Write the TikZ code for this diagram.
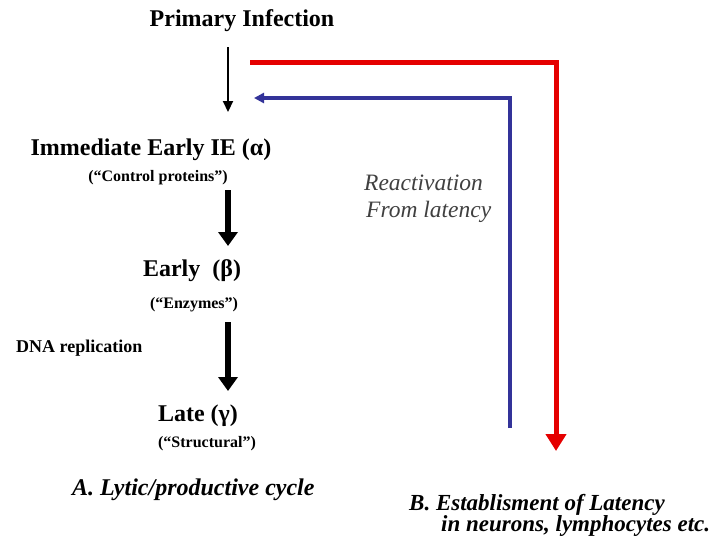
\documentclass[tikz,border=0pt]{standalone}
\usepackage{fontspec}
\setmainfont{Liberation Serif}
\usetikzlibrary{arrows.meta}
\begin{document}
\begin{tikzpicture}[x=1pt,y=-1pt,
  big/.style={font=\bfseries\fontsize{24}{28}\selectfont, inner sep=0pt},
  small/.style={font=\bfseries\fontsize{16}{19}\selectfont, inner sep=0pt},
  mid/.style={font=\bfseries\fontsize{18}{21}\selectfont, inner sep=0pt},
  capt/.style={font=\bfseries\itshape\fontsize{24}{28}\selectfont, inner sep=0pt},
  captb/.style={font=\bfseries\itshape\fontsize{23}{27}\selectfont, inner sep=0pt},
  reac/.style={font=\itshape\fontsize{23.5}{27}\selectfont, text=black!75, inner sep=0pt, anchor=west},
  thinarr/.style={line width=2.2pt, -{Triangle[length=11pt,width=10pt]}},
  thickarr/.style={line width=6pt, -{Triangle[length=14pt,width=19pt]}}
]
\useasboundingbox (0,0) rectangle (719,538);
\node[big] (pi) at (242,21) {Primary Infection};
\node[big] (ie) at (151,150) {Immediate Early IE (α)};
\node[small] (cp) at (158,178) {(“Control proteins”)};
\node[big] (e) at (192,271) {Early\ \ (β)};
\node[small] (enz) at (194,305) {(“Enzymes”)};
\node[mid, anchor=west] (dna) at (16,348) {DNA replication};
\node[big] (l) at (198,416) {Late (γ)};
\node[small] (st) at (207,444) {(“Structural”)};
\node[capt, anchor=west] (a) at (72,490) {A. Lytic/productive cycle};
\node[captb, anchor=west] (b1) at (409,505) {B. Establisment of Latency};
\node[captb, anchor=west] (b2) at (441,526) {in neurons, lymphocytes etc.};
\node[reac] (r1) at (364,183) {Reactivation};
\node[reac] (r2) at (366,212) {From latency};

\coordinate (a1s) at (228,47);
\coordinate (a1e) at (228,112);
\draw[thinarr] (a1s) -- (a1e);
\coordinate (a2s) at (228,190);
\coordinate (a2e) at (228,246);
\draw[thickarr] (a2s) -- (a2e);
\coordinate (a3s) at (228,322);
\coordinate (a3e) at (228,391);
\draw[thickarr] (a3s) -- (a3e);

\coordinate (rs) at (250,62);
\coordinate (rc) at (556,62);
\coordinate (re) at (556,451);
\draw[red!90!black, line width=5pt, -{Triangle[length=17pt,width=20pt]}] (rs) -- (rc) -- (re);
\coordinate (bs) at (510,428);
\coordinate (bc) at (510,98);
\coordinate (be) at (254,98);
\draw[blue!50!black!80, line width=3.2pt, -{Triangle[length=10pt,width=10pt]}] (bs) -- (bc) -- (be);
\end{tikzpicture}
\end{document}
